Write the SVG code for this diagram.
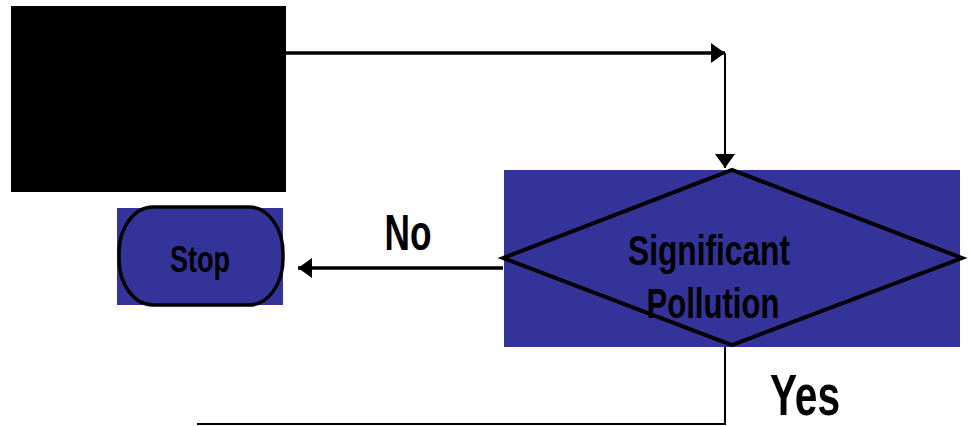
<svg xmlns="http://www.w3.org/2000/svg" width="972" height="426" viewBox="0 0 972 426">
  <style>
    .lbl { font-family: "Liberation Sans", Arial, sans-serif; font-weight: bold; fill: #000; }
    .wire { fill: none; stroke: #000; }
    .panel { fill: #333399; }
  </style>
  <defs>
    <marker id="head" viewBox="0 0 14 20" refX="14" refY="10" markerWidth="14" markerHeight="20" markerUnits="userSpaceOnUse" orient="auto">
      <path d="M0,0 L14,10 L0,20 Z" fill="#000"/>
    </marker>
  </defs>

  <rect width="972" height="426" fill="#fff"/>

  <g id="start">
    <rect x="11" y="6" width="275" height="186" fill="#000"/>
  </g>

  <g id="stop">
    <rect class="panel" x="117" y="208" width="166" height="97"/>
    <rect x="119" y="207" width="164" height="98" rx="34" ry="46" fill="#333399" stroke="#000" stroke-width="3.5"/>
    <text class="lbl" x="200" y="272" font-size="36" text-anchor="middle" textLength="60" lengthAdjust="spacingAndGlyphs">Stop</text>
  </g>

  <g id="decision">
    <rect class="panel" x="504" y="170" width="456" height="177"/>
    <polygon points="503,258 732,170 962,258 732,345" fill="none" stroke="#000" stroke-width="4"/>
    <text class="lbl" x="709" y="265" font-size="42" text-anchor="middle" textLength="162" lengthAdjust="spacingAndGlyphs">Significant</text>
    <text class="lbl" x="713" y="318" font-size="42" text-anchor="middle" textLength="133" lengthAdjust="spacingAndGlyphs">Pollution</text>
  </g>

  <g id="connectors">
    <polyline class="wire" points="286,53 725,53" stroke-width="3.5" marker-end="url(#head)"/>
    <polyline class="wire" points="725,53 725,168" stroke-width="2" marker-end="url(#head)"/>
    <polyline class="wire" points="503,268 298,268" stroke-width="3.5" marker-end="url(#head)"/>
    <polyline class="wire" points="725,347 725,424 197,424" stroke-width="2"/>
  </g>

  <g id="labels">
    <text class="lbl" x="408" y="250" font-size="50" text-anchor="middle" textLength="47" lengthAdjust="spacingAndGlyphs">No</text>
    <text class="lbl" x="805" y="415" font-size="58" text-anchor="middle" textLength="70" lengthAdjust="spacingAndGlyphs">Yes</text>
  </g>
</svg>
